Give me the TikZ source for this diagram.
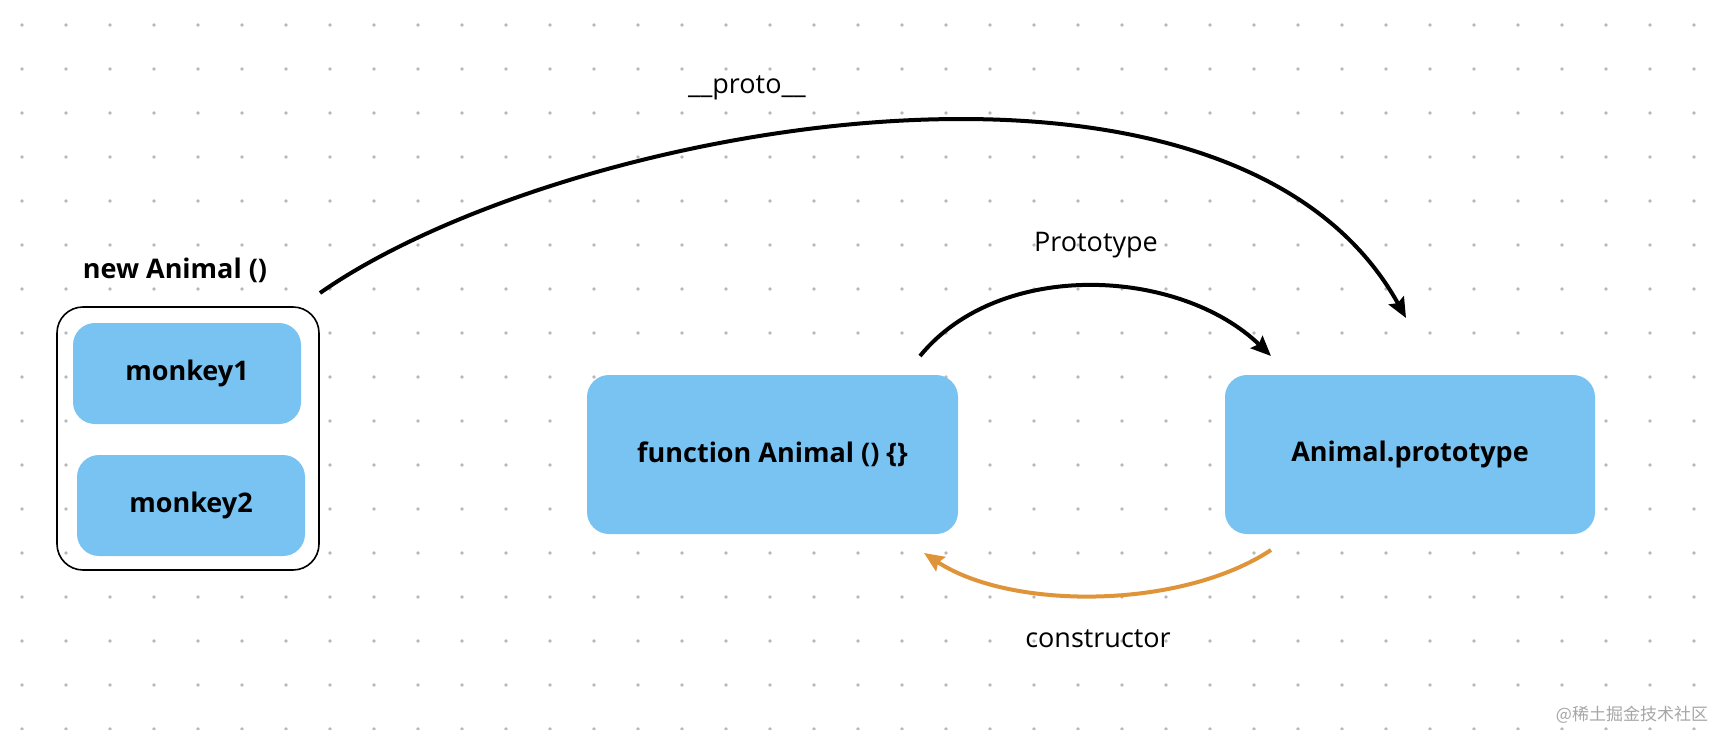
\documentclass[tikz,border=0pt]{standalone}
\usepackage{fontspec}
\setmainfont{Open Sans}
\newfontfamily\cjk{Noto Sans CJK SC}
\usetikzlibrary{arrows.meta}
\definecolor{boxblue}{HTML}{78C3F2}
\definecolor{orng}{HTML}{E0943A}
\begin{document}
\begin{tikzpicture}[x=1pt,y=-1pt,
  blue/.style={fill=boxblue,rounded corners=22pt,font=\fontsize{27}{32}\selectfont\bfseries},
  lbl/.style={font=\fontsize{27}{32}\selectfont},
  arr/.style={line width=4pt,-{Stealth[length=20pt,width=17pt,inset=3pt]}}]
\useasboundingbox[fill=white] (0,0) rectangle (1718,730);
\foreach \i in {0,...,38}{\foreach \j in {0,...,16}{
  \fill[black!28] (22+44*\i,25+44*\j) circle (1.8pt);}}
\node[draw,line width=1.6pt,rounded corners=26pt,minimum width=262pt,minimum height=263pt] (grp) at (188,438.5) {};
\node[blue,minimum width=228pt,minimum height=101pt] (m1) at (187,373.5) {monkey1};
\node[blue,minimum width=228pt,minimum height=101pt] (m2) at (191,505.5) {monkey2};
\node[lbl,font=\fontsize{27}{32}\selectfont\bfseries] (na) at (175,270) {new Animal ()};
\node[blue,minimum width=371pt,minimum height=159pt] (fa) at (772.5,454.5) {function Animal () \{\}};
\node[blue,minimum width=370pt,minimum height=159pt] (ap) at (1410,454.5) {Animal.prototype};
\node[lbl] (lp) at (747,88) {\_\_proto\_\_};
\node[lbl] (lpt) at (1096,245) {Prototype};
\node[lbl] (lc) at (1098,639) {constructor};
\node[text=black!35,font=\cjk\fontsize{17}{20}\selectfont] (wm) at (1632,715) {@稀土掘金技术社区};
\coordinate (p0) at (320,293); \coordinate (p1) at (1406,318);
\draw[arr] (p0) .. controls (560,125) and (1230,0) .. (p1);
\coordinate (q0) at (920,356); \coordinate (q1) at (1271,356);
\draw[arr] (q0) .. controls (1000,258) and (1180,268) .. (q1);
\coordinate (r0) at (1271,550); \coordinate (r1) at (924,553);
\draw[arr,orng] (r0) .. controls (1180,610) and (1010,610) .. (r1);
\end{tikzpicture}
\end{document}
